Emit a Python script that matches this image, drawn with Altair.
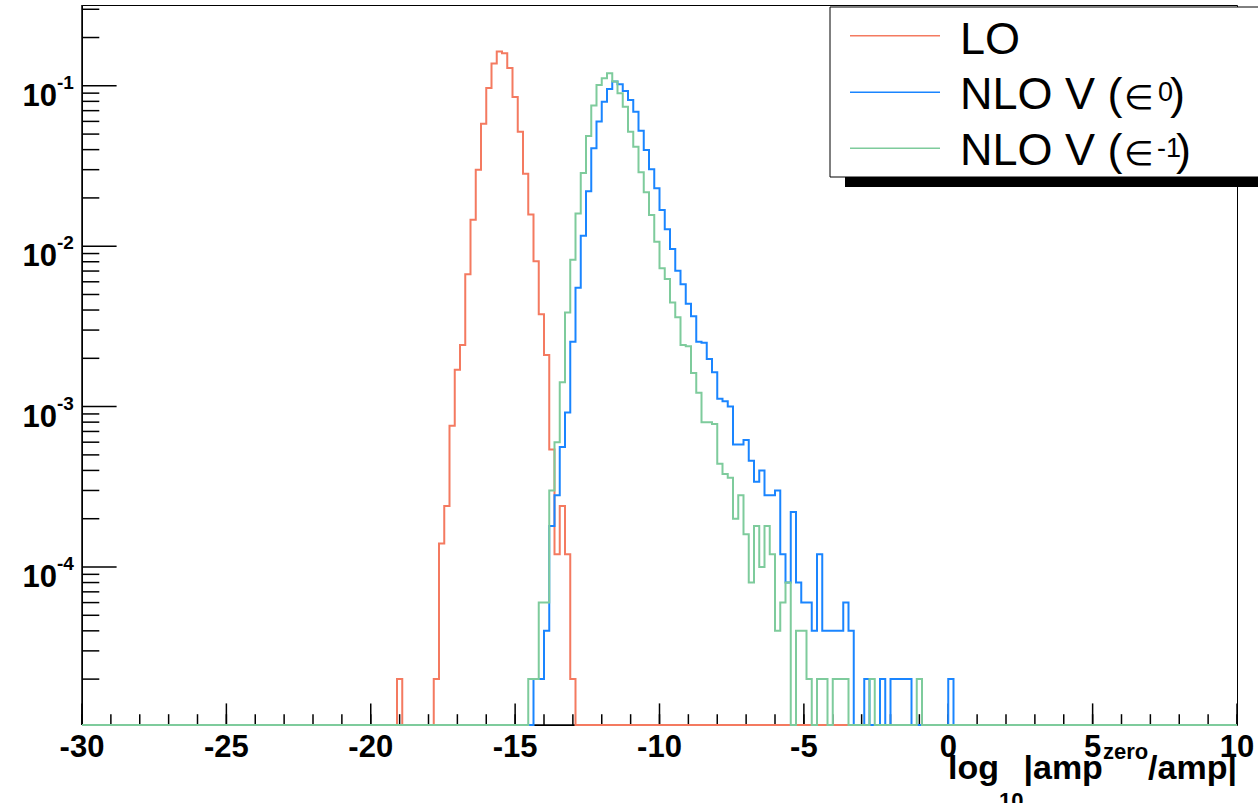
import altair as alt
import pandas as pd

# ---------------- data (event counts per bin, normalised by N_EVENTS) ----------------
N_EVENTS = 50000
X_MIN, X_MAX, N_BINS = -30.0, 10.0, 220

LO_FIRST_BIN = 60
LO_COUNTS = [1, 0, 0, 0, 0, 0, 0, 1, 7, 12,
             38, 85, 121, 334, 731, 1500, 2904, 4842, 6890, 8190,
             7980, 6460, 4256, 2585, 1416, 789, 403, 188, 105, 27,
             6, 12, 6, 1]

NLO0_FIRST_BIN = 86
NLO0_COUNTS = [1, 1, 2, 9, 14, 28, 46, 127, 275, 580,
               1100, 2039, 2990, 3980, 4775, 5310, 5108, 4645, 4076, 3445,
               2625, 1990, 1507, 1148, 841, 637, 480, 351, 290, 219,
               183, 127, 125, 99, 82, 56, 54, 50, 29, 29,
               31, 23, 17, 20, 14, 14, 15, 6, 4, 11,
               4, 3, 3, 2, 6, 2, 2, 2, 2, 3,
               2, 0, 0, 1, 0, 0, 1, 0, 1, 1,
               1, 1, 0, 0, 0, 0, 0, 0, 0, 1]

NLOM1_FIRST_BIN = 85
NLOM1_COUNTS = [1, 1, 3, 3, 15, 30, 71, 193, 412, 800,
                1430, 2435, 3770, 5065, 5570, 5990, 5310, 4490, 3705, 2588,
                2086, 1444, 1083, 782, 533, 364, 312, 223, 180, 121,
                119, 81, 61, 40, 40, 39, 22, 19, 18, 10,
                14, 8, 4, 9, 5, 9, 6, 2, 3, 4,
                0, 2, 2, 1, 0, 1, 1, 0, 1, 1,
                1, 0, 0, 0, 0, 1, 0, 0, 0, 0,
                0, 0, 0, 0, 1]

SERIES = ["LO", "NLO V (e0)", "NLO V (e-1)"]
COLORS = ["#F47A60", "#1A85FF", "#7ECB9C"]

X_TICK_VALUES = [-30, -25, -20, -15, -10, -5, 0, 5, 10]
X_TICK_LABELS = ["-30", "-25", "-20", "-15", "-10", "-5", "0", "5", "10"]
Y_DECADES = [1e-1, 1e-2, 1e-3, 1e-4]
Y_DECADE_SUP = ["-1", "-2", "-3", "-4"]

Y_MIN, Y_MAX = 1.035e-5, 0.319

# ---------------- layout ----------------
W, H = 1155, 720
PAD = {"left": 82, "top": 5, "right": 21, "bottom": 78}
FONT = "Liberation Sans"

xs = alt.Scale(domain=[X_MIN, X_MAX], nice=False, zero=False)
ys = alt.Scale(type="log", domain=[Y_MIN, Y_MAX], nice=False, clamp=True)


def hist_frame(first, counts):
    full = [0] * N_BINS
    for i, c in enumerate(counts):
        full[first + i] = c
    bw = (X_MAX - X_MIN) / N_BINS
    rows = []
    for k in range(N_BINS):
        rows.append({"x": X_MIN + k * bw, "v": max(full[k] / N_EVENTS, Y_MIN), "i": k})
    rows.append({"x": X_MAX, "v": max(full[-1] / N_EVENTS, Y_MIN), "i": N_BINS})
    return pd.DataFrame(rows)


def hist_line(df, color):
    return alt.Chart(df).mark_line(interpolate="step-after", strokeWidth=2, color=color).encode(
        x=alt.X("x:Q", scale=xs, axis=None),
        y=alt.Y("v:Q", scale=ys, axis=None),
        order="i:Q",
    )


def txt(s, x, y, size, bold=False, align="left", font=FONT):
    return alt.Chart(pd.DataFrame({"t": [s]})).mark_text(
        align=align, baseline="alphabetic", fontSize=size,
        fontWeight="bold" if bold else "normal", font=font, color="black"
    ).encode(x=alt.value(x), y=alt.value(y), text="t:N")


one = pd.DataFrame({"a": [0]})

# ticks (inside the frame, ROOT style)
x_minor_df = pd.DataFrame({"t": list(range(-30, 11))})
x_major_df = pd.DataFrame({"t": X_TICK_VALUES})
y_minor_vals = [m * 10.0 ** e for e in range(-5, 0) for m in range(2, 10)
                if Y_MIN <= m * 10.0 ** e <= Y_MAX]
y_minor_df = pd.DataFrame({"t": y_minor_vals})
y_major_df = pd.DataFrame({"t": Y_DECADES})

x_minor = alt.Chart(x_minor_df).mark_rule(color="black", strokeWidth=1.5).encode(
    x=alt.X("t:Q", scale=xs, axis=None), y=alt.value(H), y2=alt.value(H - 10.8))
x_major = alt.Chart(x_major_df).mark_rule(color="black", strokeWidth=1.5).encode(
    x=alt.X("t:Q", scale=xs, axis=None), y=alt.value(H), y2=alt.value(H - 21.6))
y_minor = alt.Chart(y_minor_df).mark_rule(color="black", strokeWidth=1.5).encode(
    y=alt.Y("t:Q", scale=ys, axis=None), x=alt.value(0), x2=alt.value(17.3))
y_major = alt.Chart(y_major_df).mark_rule(color="black", strokeWidth=1.5).encode(
    y=alt.Y("t:Q", scale=ys, axis=None), x=alt.value(0), x2=alt.value(34.6))

axis_left = alt.Chart(one).mark_rule(color="black", strokeWidth=1.5).encode(
    x=alt.value(0), y=alt.value(0), y2=alt.value(H))
axis_bottom = alt.Chart(one).mark_rule(color="black", strokeWidth=1.5).encode(
    x=alt.value(0), x2=alt.value(W), y=alt.value(H))

lo_line = hist_line(hist_frame(LO_FIRST_BIN, LO_COUNTS), COLORS[0])
nlo0_line = hist_line(hist_frame(NLO0_FIRST_BIN, NLO0_COUNTS), COLORS[1])
nlom1_line = hist_line(hist_frame(NLOM1_FIRST_BIN, NLOM1_COUNTS), COLORS[2])

# x tick labels
x_lab = alt.Chart(pd.DataFrame({"t": X_TICK_VALUES, "s": X_TICK_LABELS})).mark_text(
    align="center", baseline="alphabetic", fontSize=31, fontWeight="bold", font=FONT, color="black"
).encode(x=alt.X("t:Q", scale=xs, axis=None), y=alt.value(752), text="s:N")

# y tick labels 10^-n
y_dec_df = pd.DataFrame({"t": Y_DECADES, "base": ["10"] * 4, "sup": Y_DECADE_SUP})
y_lab = alt.Chart(y_dec_df).mark_text(
    align="right", baseline="alphabetic", fontSize=31, fontWeight="bold", font=FONT, color="black", dy=20
).encode(y=alt.Y("t:Q", scale=ys, axis=None), x=alt.value(-25), text="base:N")
y_sup = alt.Chart(y_dec_df).mark_text(
    align="left", baseline="alphabetic", fontSize=19, fontWeight="bold", font=FONT, color="black", dy=3
).encode(y=alt.Y("t:Q", scale=ys, axis=None), x=alt.value(-25), text="sup:N")

# x-axis title  log_10|amp^zero/amp|  (right aligned at the axis end)
ARIAL_BOLD = {"l": 278, "o": 611, "g": 611, "1": 556, "0": 556, "|": 280, "a": 556,
              "m": 889, "p": 611, "z": 500, "e": 556, "r": 389, "/": 278}
TITLE_PIECES = [("log", 34, 773.5), ("10", 22, 802.5), ("|amp", 34, 773.5),
                ("zero", 22, 754), ("/amp|", 34, 773.5)]
title_layers = []
xr = W
for s, size, base in reversed(TITLE_PIECES):
    w = sum(ARIAL_BOLD[c] for c in s) / 1000.0 * size
    xr -= w
    title_layers.append(txt(s, xr, base, size, bold=True))

# legend
legend_shadow = alt.Chart(one).mark_rect(color="black").encode(
    x=alt.value(763), x2=alt.value(1200), y=alt.value(12), y2=alt.value(182))
legend_box = alt.Chart(one).mark_rect(fill="white", stroke="black", strokeWidth=1).encode(
    x=alt.value(748), x2=alt.value(1195), y=alt.value(2), y2=alt.value(172))
LEG_Y = [30.7, 87.3, 143.3]
leg_lines = [alt.Chart(one).mark_rule(color=COLORS[i], strokeWidth=1.5).encode(
    x=alt.value(768), x2=alt.value(858), y=alt.value(LEG_Y[i])) for i in range(3)]
LEG_FS = 45
leg_text = [
    txt("LO", 878, 49, LEG_FS),
    txt("NLO V (", 878, 103.5, LEG_FS),
    txt("\u2208", 1042, 103.5, 34, font="DejaVu Sans"),
    txt("0", 1076, 96, 27),
    txt(")", 1088, 103.5, LEG_FS),
    txt("NLO V (", 878, 160, LEG_FS),
    txt("\u2208", 1042, 160, 34, font="DejaVu Sans"),
    txt("-1", 1075, 152, 27),
    txt(")", 1094, 160, LEG_FS),
]

chart = alt.layer(
    axis_left, axis_bottom, x_minor, x_major, y_minor, y_major,
    lo_line, nlo0_line, nlom1_line,
    x_lab, y_lab, y_sup, *title_layers,
    legend_shadow, legend_box, *leg_lines, *leg_text,
).properties(
    width=W, height=H, padding=PAD, background="white",
    autosize=alt.AutoSizeParams(type="none"),
).configure_view(stroke="black", strokeWidth=1)

chart.save("out.html", embed_options={"renderer": "svg", "actions": False})
